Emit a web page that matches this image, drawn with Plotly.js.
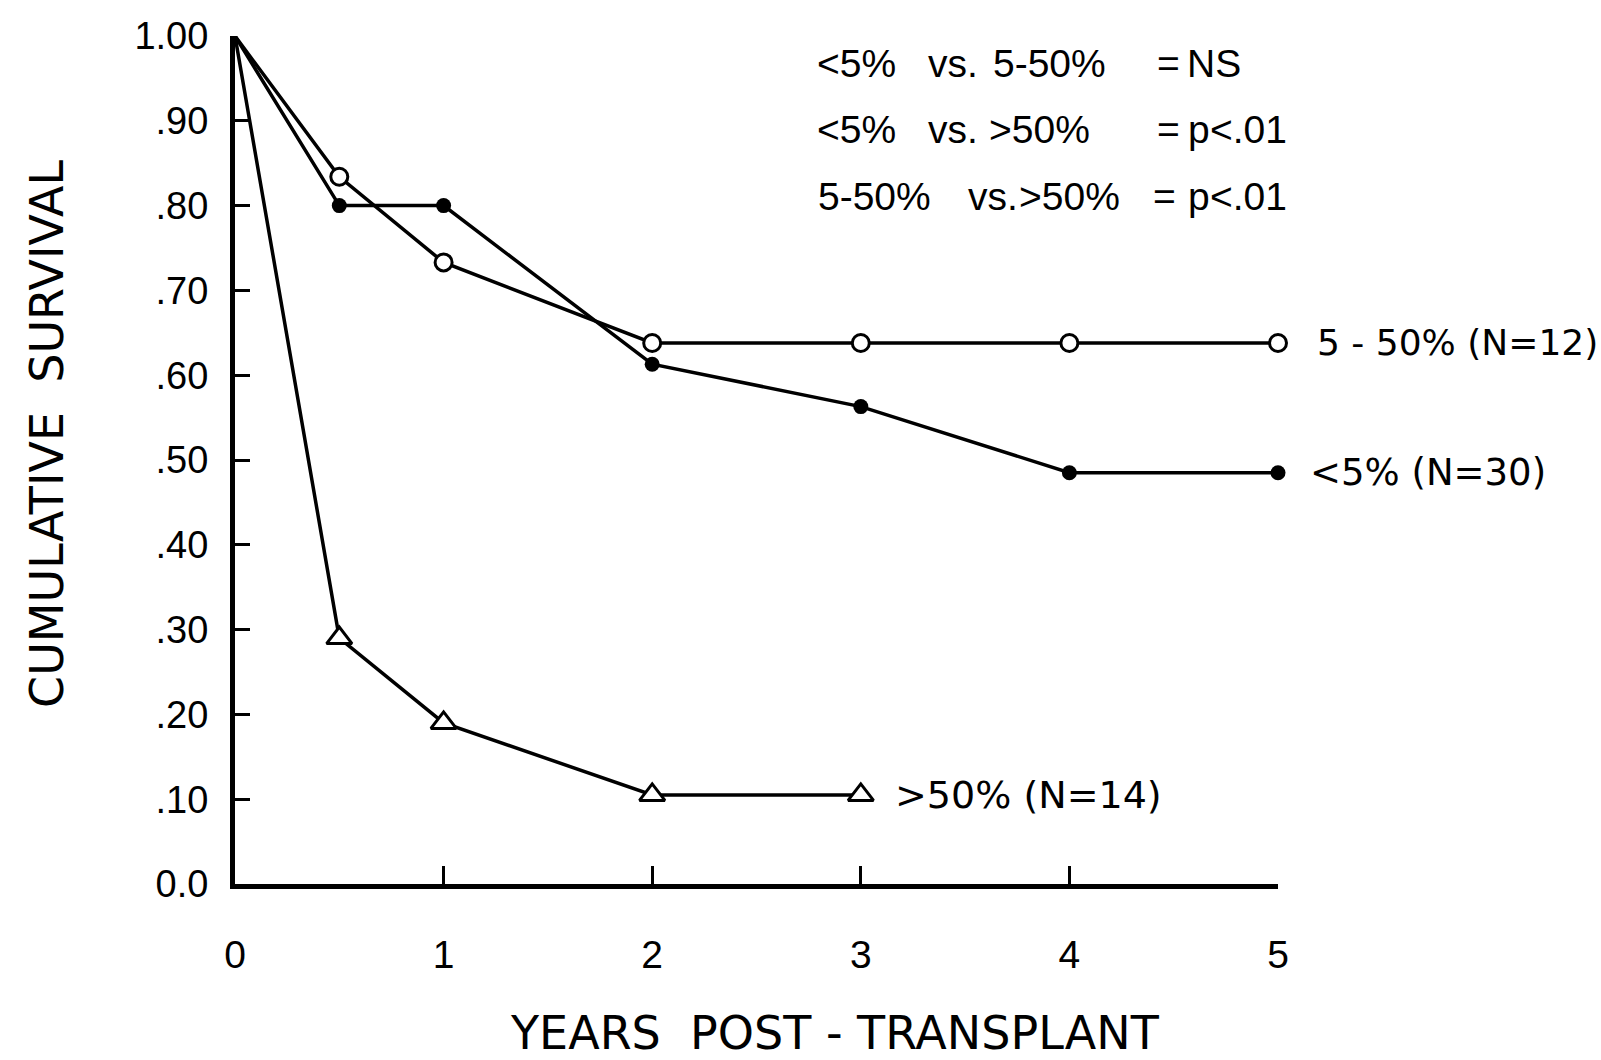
<!DOCTYPE html>
<html>
<head>
<meta charset="utf-8">
<script src="https://cdn.plot.ly/plotly-3.0.1.min.js"></script>
<style>html,body{margin:0;padding:0;background:#fff;}#chart{width:1601px;height:1060px;}</style>
</head>
<body>
<div id="chart"></div>
<script>
// Years post-transplant
var years_lt5 = [0, 0.5, 1, 2, 3, 4, 5];
var surv_lt5 = [1.00, 0.80, 0.80, 0.613, 0.563, 0.485, 0.485];

var years_5to50 = [0, 0.5, 1, 2, 3, 4, 5];
var surv_5to50 = [1.00, 0.834, 0.733, 0.638, 0.638, 0.638, 0.638];

var years_gt50 = [0, 0.5, 1, 2, 3];
var surv_gt50 = [1.00, 0.29, 0.19, 0.105, 0.105];

var xTickVals = [0, 1, 2, 3, 4, 5];
var xTickText = ["0", "1", "2", "3", "4", "5"];
var yTickVals = [0, 0.1, 0.2, 0.3, 0.4, 0.5, 0.6, 0.7, 0.8, 0.9, 1.0];
var yTickText = ["0.0", ".10", ".20", ".30", ".40", ".50", ".60", ".70", ".80", ".90", "1.00"];

var seriesLabels = ["&lt;5% (N=30)", "5 - 50% (N=12)", "&gt;50% (N=14)"];

var TICKFONT = '"Liberation Sans", Arial, sans-serif';
var FONT = '"DejaVu Sans", sans-serif';

// no marker drawn at the origin point (t = 0)
function hideFirst(n) { var a = []; for (var i = 0; i < n; i++) a.push(i === 0 ? 0 : 1); return a; }

var traces = [
  {
    x: years_lt5, y: surv_lt5, mode: 'lines+markers', name: seriesLabels[0],
    line: {color: '#000', width: 3.5},
    marker: {symbol: 'circle', size: 15, color: '#000', opacity: hideFirst(years_lt5.length)},
    cliponaxis: false
  },
  {
    x: years_5to50, y: surv_5to50, mode: 'lines+markers', name: seriesLabels[1],
    line: {color: '#000', width: 3.5},
    marker: {symbol: 'circle', size: 17, color: '#fff', line: {color: '#000', width: 3}, opacity: hideFirst(years_5to50.length)},
    cliponaxis: false
  },
  {
    x: years_gt50, y: surv_gt50, mode: 'lines+markers', name: seriesLabels[2],
    line: {color: '#000', width: 3.5},
    marker: {symbol: 'triangle-up', size: 22, color: '#fff', line: {color: '#000', width: 3}, opacity: hideFirst(years_gt50.length)},
    cliponaxis: false
  }
];

function t(x, y, s) {
  return {xref: 'x', yref: 'y', x: x, y: y, text: s, showarrow: false, xanchor: 'left', yanchor: 'middle',
          font: {family: TICKFONT, size: 39, color: '#000'}};
}

var annotations = [
  // series end labels
  {xref: 'x', yref: 'y', x: 5, y: surv_5to50[surv_5to50.length - 1], xshift: 37, text: seriesLabels[1], showarrow: false, xanchor: 'left', yanchor: 'middle', font: {family: FONT, size: 36, color: '#000'}},
  {xref: 'x', yref: 'y', x: 5, y: surv_lt5[surv_lt5.length - 1], xshift: 30, text: seriesLabels[0], showarrow: false, xanchor: 'left', yanchor: 'middle', font: {family: FONT, size: 37, color: '#000'}},
  {xref: 'x', yref: 'y', x: 3, y: surv_gt50[surv_gt50.length - 1], xshift: 32, text: seriesLabels[2], showarrow: false, xanchor: 'left', yanchor: 'middle', font: {family: FONT, size: 38, color: '#000'}},
  // comparison block
  t(2.780, 0.968, '&lt;5%'), t(3.313, 0.968, 'vs.'), t(3.624, 0.968, '5-50%'), t(4.410, 0.968, '='), t(4.554, 0.968, 'NS'),
  t(2.780, 0.890, '&lt;5%'), t(3.313, 0.890, 'vs.'), t(3.605, 0.890, '&gt;50%'), t(4.410, 0.890, '='), t(4.559, 0.890, 'p'), t(4.664, 0.890, '&lt;.01'),
  t(2.785, 0.811, '5-50%'), t(3.504, 0.811, 'vs.'), t(3.749, 0.811, '&gt;50%'), t(4.391, 0.811, '='), t(4.559, 0.811, 'p'), t(4.664, 0.811, '&lt;.01'),
  // axis titles
  {xref: 'x', yref: 'paper', x: 2.876, y: -0.176, text: 'YEARS  POST - TRANSPLANT', showarrow: false, xanchor: 'center', yanchor: 'middle', font: {family: FONT, size: 46, color: '#000'}},
  {xref: 'paper', yref: 'paper', x: -0.181, y: 0.531, text: 'CUMULATIVE  SURVIVAL', textangle: -90, showarrow: false, xanchor: 'center', yanchor: 'middle', font: {family: FONT, size: 46, color: '#000'}}
];

var layout = {
  width: 1601, height: 1060,
  margin: {l: 235, r: 323, t: 36, b: 176, pad: 0},
  paper_bgcolor: '#fff', plot_bgcolor: '#fff',
  showlegend: false,
  font: {family: FONT, color: '#000'},
  xaxis: {
    range: [0, 5], tickvals: xTickVals, ticktext: xTickText,
    showgrid: false, zeroline: false, showline: true, linecolor: '#000', linewidth: 5,
    ticks: 'inside', ticklen: 18, tickwidth: 3, tickcolor: '#000',
    ticklabelstandoff: 32,
    tickfont: {family: TICKFONT, size: 39, color: '#000'}
  },
  yaxis: {
    range: [0, 1], tickvals: yTickVals, ticktext: yTickText,
    showgrid: false, zeroline: false, showline: true, linecolor: '#000', linewidth: 5,
    ticks: 'inside', ticklen: 15, tickwidth: 3, tickcolor: '#000',
    ticklabelstandoff: 14,
    tickfont: {family: TICKFONT, size: 38, color: '#000'}
  },
  annotations: annotations
};

Plotly.newPlot('chart', traces, layout, {displayModeBar: false, staticPlot: true});
</script>
</body>
</html>
